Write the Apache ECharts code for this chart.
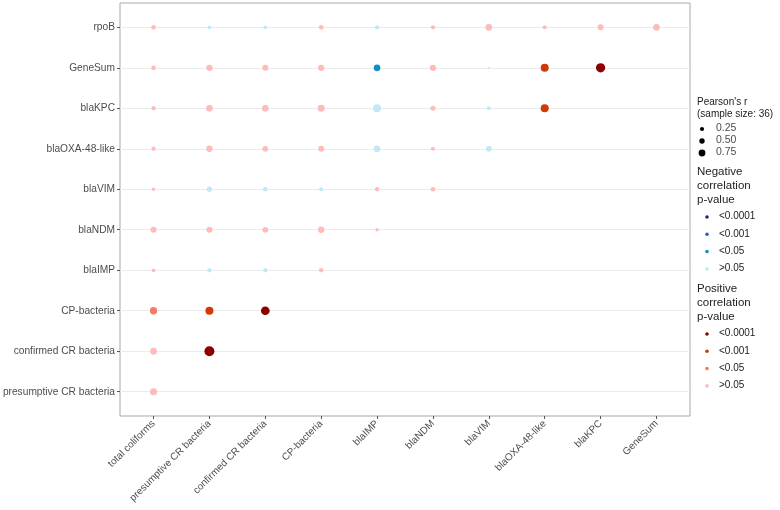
<!DOCTYPE html>
<html>
<head>
<meta charset="utf-8">
<script src="https://cdn.jsdelivr.net/npm/echarts@6/dist/echarts.min.js"></script>
<style>
html,body{margin:0;padding:0;background:#fff;}
#main{width:780px;height:510px;}
</style>
</head>
<body>
<div id="main"></div>
<script>
// Column (x) categories
const xCats = ['total coliforms','presumptive CR bacteria','confirmed CR bacteria','CP-bacteria','blaIMP','blaNDM','blaVIM','blaOXA-48-like','blaKPC','GeneSum'];
// Row (y) categories, top to bottom
const yCats = ['rpoB','GeneSum','blaKPC','blaOXA-48-like','blaVIM','blaNDM','blaIMP','CP-bacteria','confirmed CR bacteria','presumptive CR bacteria'];

// Signed Pearson's r per row (columns in xCats order)
const r_rpoB       = [0.32,-0.22,-0.22,0.32,-0.28,0.28,0.52,0.25,0.45,0.52];
const r_GeneSum    = [0.32,0.48,0.45,0.48,-0.52,0.48,-0.05,0.65,0.78];
const r_blaKPC     = [0.28,0.52,0.52,0.55,-0.65,0.35,-0.25,0.65];
const r_blaOXA     = [0.28,0.48,0.42,0.45,-0.52,0.25,-0.42];
const r_blaVIM     = [0.18,-0.38,-0.32,-0.25,0.28,0.32];
const r_blaNDM     = [0.45,0.45,0.42,0.48,0.18];
const r_blaIMP     = [0.22,-0.28,-0.28,0.28];
const r_CP         = [0.58,0.65,0.72];
const r_confirmed  = [0.52,0.85];
const r_presumptive= [0.55];

// p-value class per row: 0 = >0.05, 1 = <0.05, 2 = <0.001, 3 = <0.0001
const p_rpoB       = [0,0,0,0,0,0,0,0,0,0];
const p_GeneSum    = [0,0,0,0,1,0,0,2,3];
const p_blaKPC     = [0,0,0,0,0,0,0,2];
const p_blaOXA     = [0,0,0,0,0,0,0];
const p_blaVIM     = [0,0,0,0,0,0];
const p_blaNDM     = [0,0,0,0,0];
const p_blaIMP     = [0,0,0,0];
const p_CP         = [1,2,3];
const p_confirmed  = [0,3];
const p_presumptive= [0];

const pLabels = ['>0.05','<0.05','<0.001','<0.0001'];
const sizeLegendValues = [0.25, 0.50, 0.75];

const rRows = [r_rpoB,r_GeneSum,r_blaKPC,r_blaOXA,r_blaVIM,r_blaNDM,r_blaIMP,r_CP,r_confirmed,r_presumptive];
const pRows = [p_rpoB,p_GeneSum,p_blaKPC,p_blaOXA,p_blaVIM,p_blaNDM,p_blaIMP,p_CP,p_confirmed,p_presumptive];

const posColors = ['#ffbaba','#f7786b','#cf3a08','#8b0000'];
const negColors = ['#c3e7f7','#0b91c8','#2f63ad','#1c2b66'];

function sizeOf(r){ return 1.5 + 10*Math.abs(r); }

const data = [];
rRows.forEach((row, i) => {
  row.forEach((r, j) => { data.push([j, i, r, pRows[i][j]]); });
});

const idx = xCats.map((_, i) => i);
const yIdx = yCats.map((_, i) => i);
const FONT = 'Liberation Sans, Arial, sans-serif';
const txt = '#4d4d4d';

// Legend graphics
const L = [];
const lx = 697;
L.push({type:'text', left:lx, top:97, style:{text:"Pearson's r", font:'10px '+FONT, fill:'#222'}});
L.push({type:'text', left:lx, top:109, style:{text:'(sample size: 36)', font:'10px '+FONT, fill:'#222'}});
const legSizes = [4.2, 5.4, 6.8];
sizeLegendValues.forEach((v, k) => {
  const cy = 129 + k*12;
  L.push({type:'circle', shape:{cx:702, cy:cy, r:legSizes[k]/2}, style:{fill:'#000'}});
  L.push({type:'text', left:716, top:cy-6, style:{text:v.toFixed(2), font:'10.5px '+FONT, fill:txt}});
});
function pGroup(title, y0, colors){
  L.push({type:'text', left:lx, top:y0, style:{text:title, font:'11.5px '+FONT, fill:'#222', lineHeight:14}});
  const order = [3,2,1,0];
  order.forEach((p, k) => {
    const cy = y0 + 52 + k*17.3;
    L.push({type:'circle', shape:{cx:707, cy:cy, r:1.8}, style:{fill:colors[p]}});
    L.push({type:'text', left:719, top:cy-5.5, style:{text:pLabels[p], font:'10px '+FONT, fill:'#222'}});
  });
}
pGroup('Negative\ncorrelation\np-value', 165, negColors);
pGroup('Positive\ncorrelation\np-value', 282, posColors);

const chart = echarts.init(document.getElementById('main'), null, {renderer:'canvas'});
chart.setOption({
  animation:false,
  backgroundColor:'#fff',
  grid:{left:120, top:3, width:570, height:413, show:true, borderColor:'#a8a8a8', borderWidth:1,
        backgroundColor:'#fff', containLabel:false, outerBoundsMode:'none'},
  xAxis:{
    type:'value', min:-0.6, max:9.6, position:'bottom',
    axisLine:{show:false, onZero:false},
    splitLine:{show:false},
    axisTick:{show:true, customValues:idx, length:3, lineStyle:{color:'#555'}},
    axisLabel:{customValues:idx, rotate:45, fontSize:10, color:txt, fontFamily:FONT, margin:6,
      formatter:(v)=>xCats[Math.round(v)]}
  },
  yAxis:{
    type:'value', min:-0.6, max:9.6, inverse:true, position:'left',
    axisLine:{show:false, onZero:false},
    splitLine:{show:false},
    axisTick:{show:true, customValues:yIdx, length:3, lineStyle:{color:'#555'}},
    axisLabel:{customValues:yIdx, fontSize:10.2, color:txt, fontFamily:FONT, margin:5,
      formatter:(v)=>yCats[Math.round(v)]}
  },
  series:[
    {
      type:'scatter', data:[], silent:true, z:1,
      markLine:{silent:true, z:1, symbol:['none','none'], label:{show:false}, animation:false,
        lineStyle:{color:'#ebebeb', width:1.2, type:'solid'},
        data: yIdx.map(i => ({yAxis:i}))}
    },
    {
      type:'scatter', z:6,
      data:data,
      symbolSize:(val)=>sizeOf(val[2]),
      itemStyle:{
        opacity:1,
        color:(p)=>{ const d=p.data; return d[2] >= 0 ? posColors[d[3]] : negColors[d[3]]; }
      }
    }
  ],
  graphic:L
});
</script>
</body>
</html>
